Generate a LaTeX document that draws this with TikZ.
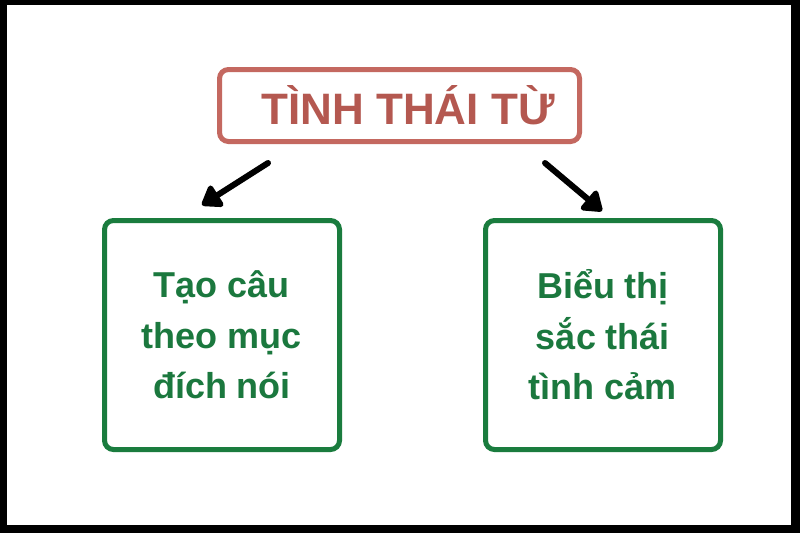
\documentclass[tikz,border=0pt]{standalone}
\usepackage{fontspec}
\setmainfont{Liberation Sans}
\usepackage{tikz}
\usetikzlibrary{arrows.meta,positioning}
\definecolor{titlered}{RGB}{196,104,96}
\definecolor{titletext}{RGB}{180,88,80}
\definecolor{boxgreen}{RGB}{26,124,62}
\definecolor{textgreen}{RGB}{27,120,62}

\begin{document}
\begin{tikzpicture}[x=1pt,y=-1pt,
  titlebox/.style={draw=titlered,line width=5pt,rounded corners=9pt,minimum width=360pt,minimum height=72pt,text=titletext,font=\fontsize{44}{50}\selectfont\bfseries},
  leafbox/.style={draw=boxgreen,line width=5pt,rounded corners=9pt,minimum width=235pt,minimum height=229pt,text=textgreen,align=center,font=\fontsize{36}{50.5}\selectfont\bfseries},
  branch/.style={line width=6pt,line cap=round,-{Triangle[length=21pt,width=28pt,round]}}]

\useasboundingbox (0,0) rectangle (800,533);
\fill[black] (0,0) rectangle (800,533);
\fill[white] (7,5) rectangle (791,525);

\node[titlebox] (title) at (399.5,105.5) {\hspace*{17pt}TÌNH THÁI TỪ};
\node[leafbox] (goal) at (222,335) {Tạo câu\\theo mục\\đích nói};
\node[leafbox] (mood) at (603,335) {Biểu thị\\sắc thái\\tình cảm};

\coordinate (goalfrom) at (268,163);
\coordinate (goalto) at (202,205);
\coordinate (moodfrom) at (545,163);
\coordinate (moodto) at (602,211);

\draw[branch] (goalfrom) -- (goalto);
\draw[branch] (moodfrom) -- (moodto);
\end{tikzpicture}
\end{document}
